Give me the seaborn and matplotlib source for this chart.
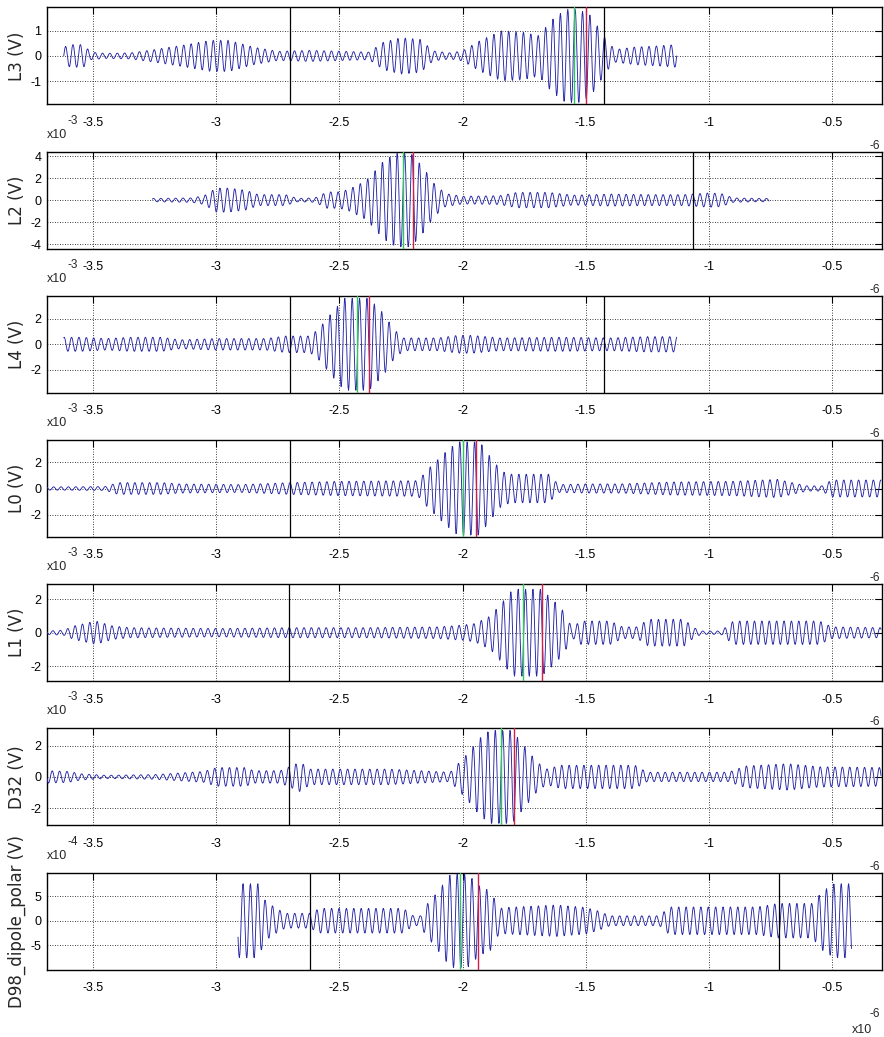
import numpy as np
import pandas as pd
import matplotlib
matplotlib.use("Agg")
import matplotlib.pyplot as plt
import seaborn as sns

# ---------------- data ----------------
channels = ["L3 (V)", "L2 (V)", "L4 (V)", "L0 (V)", "L1 (V)", "D32 (V)",
            "D98_dipole_polar (V)"]
x_ticks = [-3.5, -3, -2.5, -2, -1.5, -1, -0.5]
x_tick_labels = ["-3.5", "-3", "-2.5", "-2", "-1.5", "-1", "-0.5"]
y_ticks = [[-1, 0, 1], [-4, -2, 0, 2, 4], [-2, 0, 2], [-2, 0, 2],
           [-2, 0, 2], [-2, 0, 2], [-5, 0, 5]]
y_limits = [(-1.92, 1.92), (-4.4, 4.4), (-3.8, 3.8), (-3.7, 3.7),
            (-2.9, 2.9), (-3.1, 3.1), (-9.9, 9.75)]
y_exponents = [None, "-3", "-3", "-3", "-3", "-3", "-4"]
carrier_period = 0.0300   # microseconds, read from peak spacing

# envelope knots (time in 1e-6 s, amplitude in axis units)
env_t_L3 = [-3.62, -3.59, -3.54, -3.51, -3.45, -3.35, -3.25, -3.12, -3.02, -2.95,
            -2.85, -2.75, -2.62, -2.48, -2.38, -2.32, -2.25, -2.17, -2.12, -2.05,
            -2.00, -1.93, -1.84, -1.76, -1.69, -1.64, -1.58, -1.53, -1.48, -1.44,
            -1.41, -1.38, -1.30, -1.20, -1.13]
env_a_L3 = [0.35, 0.45, 0.45, 0.15, 0.10, 0.12, 0.25, 0.45, 0.62, 0.62,
            0.35, 0.18, 0.22, 0.18, 0.15, 0.55, 0.72, 0.65, 0.20, 0.12,
            0.20, 0.60, 1.00, 0.95, 0.80, 1.40, 1.85, 1.85, 1.60, 1.00,
            0.55, 0.25, 0.35, 0.40, 0.45]

env_t_L2 = [-3.26, -3.10, -3.05, -3.00, -2.95, -2.88, -2.83, -2.72, -2.67, -2.60,
            -2.55, -2.50, -2.46, -2.39, -2.32, -2.27, -2.21, -2.16, -2.115, -2.07,
            -2.00, -1.85, -1.78, -1.65, -1.55, -1.40, -1.25, -1.10, -1.00, -0.95,
            -0.90, -0.80, -0.754]
env_a_L2 = [0.15, 0.20, 0.40, 1.10, 1.10, 0.90, 0.50, 0.50, 0.15, 0.20,
            0.75, 0.75, 1.00, 1.80, 3.60, 4.30, 4.30, 3.00, 1.50, 0.60,
            0.35, 0.40, 0.70, 0.70, 0.45, 0.55, 0.50, 0.50, 0.65, 0.60,
            0.20, 0.15, 0.15]

env_t_L4 = [-3.62, -3.55, -3.45, -3.35, -3.22, -3.15, -3.00, -2.80, -2.72, -2.62,
            -2.585, -2.53, -2.48, -2.38, -2.32, -2.28, -2.24, -2.10, -2.02, -1.96,
            -1.85, -1.60, -1.40, -1.25, -1.13]
env_a_L4 = [0.55, 0.55, 0.45, 0.55, 0.55, 0.35, 0.45, 0.45, 0.65, 0.65,
            1.20, 2.50, 3.60, 3.60, 2.40, 1.20, 0.50, 0.50, 0.70, 0.70,
            0.50, 0.55, 0.50, 0.60, 0.60]

env_t_L0 = [-3.69, -3.45, -3.40, -3.22, -3.15, -2.90, -2.70, -2.50, -2.18, -2.14,
            -2.07, -2.02, -1.93, -1.89, -1.84, -1.80, -1.65, -1.61, -1.50, -1.36,
            -1.15, -0.90, -0.72, -0.65, -0.60, -0.54, -0.50, -0.30]
env_a_L0 = [0.12, 0.15, 0.45, 0.45, 0.35, 0.30, 0.45, 0.55, 0.60, 1.50,
            2.80, 3.60, 3.60, 2.50, 1.30, 1.10, 1.10, 0.30, 0.35, 0.35,
            0.50, 0.55, 0.70, 0.40, 0.20, 0.20, 0.65, 0.65]

env_t_L1 = [-3.69, -3.62, -3.58, -3.49, -3.42, -3.35, -3.00, -2.70, -2.40, -2.10,
            -2.00, -1.95, -1.887, -1.84, -1.795, -1.68, -1.635, -1.59, -1.555, -1.52,
            -1.40, -1.35, -1.29, -1.245, -1.10, -1.06, -1.03, -0.95, -0.90, -0.55,
            -0.50, -0.30]
env_a_L1 = [0.10, 0.15, 0.40, 0.70, 0.40, 0.30, 0.25, 0.30, 0.30, 0.35,
            0.45, 0.55, 1.00, 1.80, 2.60, 2.60, 2.00, 1.30, 0.30, 0.70,
            0.70, 0.35, 0.35, 0.80, 0.80, 0.30, 0.10, 0.10, 0.70, 0.70,
            0.35, 0.30]

env_t_D32 = [-3.69, -3.60, -3.55, -3.45, -3.25, -3.05, -3.00, -2.88, -2.85, -2.74,
             -2.66, -2.62, -2.30, -2.05, -1.98, -1.93, -1.89, -1.80, -1.75, -1.70,
             -1.66, -1.60, -1.30, -1.25, -0.92, -0.85, -0.68, -0.55, -0.30]
env_a_D32 = [0.40, 0.35, 0.20, 0.10, 0.15, 0.35, 0.60, 0.60, 0.40, 0.40,
             0.95, 0.50, 0.50, 0.30, 1.50, 2.50, 3.00, 3.00, 2.00, 1.00,
             0.50, 0.75, 0.75, 0.30, 0.30, 0.70, 0.85, 0.65, 0.60]

env_t_D98 = [-2.912, -2.83, -2.80, -2.756, -2.72, -2.62, -2.58, -2.24, -2.20, -2.17,
             -2.15, -2.115, -2.07, -2.047, -1.98, -1.93, -1.886, -1.85, -1.82, -1.62,
             -1.50, -1.45, -1.40, -1.20, -1.16, -0.80, -0.72, -0.58, -0.537, -0.49,
             -0.42]
env_a_D98 = [7.5, 7.5, 4.0, 2.5, 1.5, 1.5, 2.5, 2.5, 1.0, 1.0,
             3.0, 5.0, 8.0, 9.5, 9.5, 7.0, 6.0, 2.5, 2.7, 3.2,
             2.7, 2.0, 1.0, 1.0, 2.8, 2.8, 3.5, 3.5, 6.0, 7.5,
             7.5]

black_markers = [[-2.70, -1.425], [-1.063], [-2.70, -1.425], [-2.70],
                 [-2.706], [-2.706], [-2.62, -0.715]]
green_markers = [-1.548, -2.24, -2.43, -2.00, -1.754, -1.845, -2.01]
red_markers = [-1.498, -2.20, -2.38, -1.944, -1.676, -1.79, -1.937]

envelopes = [(env_t_L3, env_a_L3), (env_t_L2, env_a_L2), (env_t_L4, env_a_L4),
             (env_t_L0, env_a_L0), (env_t_L1, env_a_L1), (env_t_D32, env_a_D32),
             (env_t_D98, env_a_D98)]

# ---------------- figure ----------------
sns.set_style("white")
plt.rcParams["font.family"] = ["Liberation Sans", "DejaVu Sans"]

W, H = 884, 1037
fig = plt.figure(figsize=(W / 100, H / 100), dpi=100)

left_px, right_px = 47, 882
top0, step, height = 7.4, 144.2, 97.0
xlim = (-3.688, -0.296)
sig_color = "#2626a8"


def fx(px):
    return px / W


def fy(py):
    return 1 - py / H


for i, name in enumerate(channels):
    top = top0 + i * step
    ax = fig.add_axes([fx(left_px), fy(top + height),
                       (right_px - left_px) / W, height / H])
    kt, ka = envelopes[i]
    t = np.arange(kt[0], kt[-1], carrier_period / 16.0)
    env = np.interp(t, kt, ka)
    sig = env * np.sin(2 * np.pi * (t - kt[0]) / carrier_period + 0.6 * i)
    df = pd.DataFrame({"t": t, "v": sig})
    sns.lineplot(data=df, x="t", y="v", ax=ax, color=sig_color, linewidth=0.65,
                 estimator=None, sort=False, zorder=3)
    for xb in black_markers[i]:
        ax.axvline(xb, color="black", linewidth=0.9, zorder=4)
    ax.axvline(green_markers[i], color="#2fc860", linewidth=1.0, zorder=5)
    ax.axvline(red_markers[i], color="#d0204a", linewidth=1.0, zorder=5)

    ax.set_xlim(*xlim)
    ax.set_ylim(*y_limits[i])
    ax.set_xticks(x_ticks)
    ax.set_xticklabels(x_tick_labels)
    ax.set_yticks(y_ticks[i])
    ax.set_yticklabels([str(v) for v in y_ticks[i]])
    ax.grid(True, color="black", linestyle=(0, (1, 2)), linewidth=0.6)
    ax.tick_params(axis="both", direction="in", length=5, width=0.8,
                   top=True, right=True, labelsize=9, colors="black")
    ax.tick_params(axis="x", pad=9)
    ax.tick_params(axis="y", pad=4)
    for s in ax.spines.values():
        s.set_color("black")
        s.set_linewidth(1.0)
    ax.set_xlabel("")
    ax.set_ylabel(name, fontsize=12, family=["DejaVu Sans"], labelpad=0)
    ax.yaxis.set_label_coords(-0.025, 0.5)

    if y_exponents[i] is not None:
        fig.text(fx(47), fy(top - 17), "x10", fontsize=9, ha="left", va="center")
        fig.text(fx(68), fy(top - 31), y_exponents[i], fontsize=8.5, ha="left",
                 va="center")
    if i > 0:
        fig.text(fx(869), fy(top), "-6", fontsize=8.5, ha="left", va="bottom")

fig.text(fx(852), fy(1030), "x10", fontsize=9, ha="left", va="center")
fig.text(fx(870), fy(1014), "-6", fontsize=8.5, ha="left", va="center")

fig.savefig("out.png", dpi=100)
